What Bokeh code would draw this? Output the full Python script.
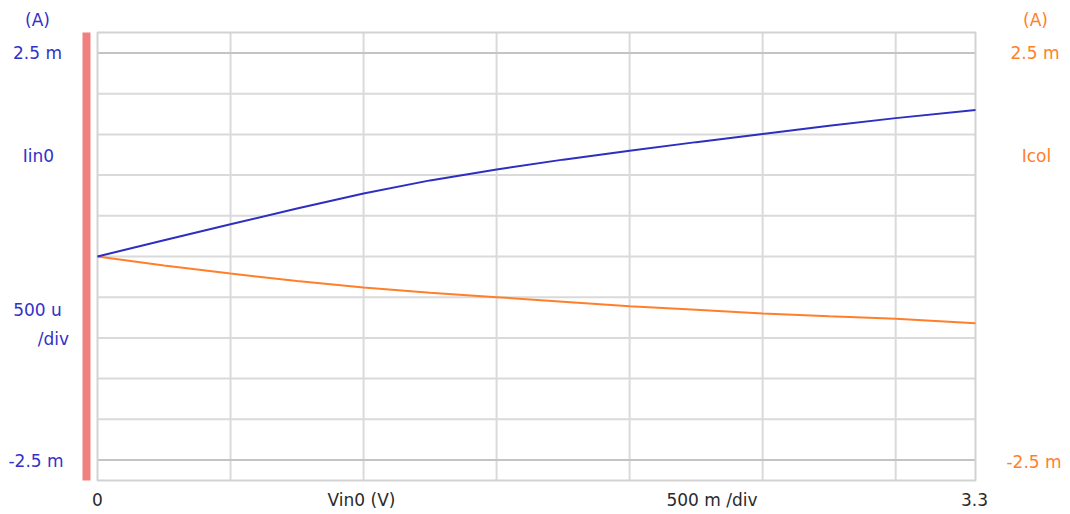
from bokeh.plotting import figure
from bokeh.models import Range1d
from bokeh.core.properties import value
from bokeh.embed import file_html
from bokeh.resources import INLINE

# ---- data (currents in mA, voltage in V) ----
vin = [0, 0.25, 0.5, 0.75, 1.0, 1.25, 1.5, 1.75, 2.0, 2.25, 2.5, 2.75, 3.0, 3.3]
iin0 = [0, 0.20, 0.395, 0.59, 0.775, 0.935, 1.07, 1.19, 1.30, 1.405, 1.505, 1.605, 1.70, 1.80]
icol = [0, -0.11, -0.21, -0.30, -0.38, -0.445, -0.50, -0.555, -0.61, -0.655, -0.70, -0.735, -0.765, -0.82]

x_grid = [0.5, 1.0, 1.5, 2.0, 2.5, 3.0]
y_grid = [-2.0, -1.5, -1.0, -0.5, 0.0, 0.5, 1.0, 1.5, 2.0]
y_limits = [-2.5, 2.5]
x_min, x_max = 0.0, 3.3

left_labels = ["(A)", "2.5 m", "Iin0", "500 u", "/div", "-2.5 m"]
right_labels = ["(A)", "2.5 m", "Icol", "-2.5 m"]
bottom_labels = ["0", "Vin0 (V)", "500 m /div", "3.3"]

# ---- layout helpers (page pixel -> data) ----
W, H = 1068, 512
SX = 878 / 3.3
SY = 81.4


def dx(px):
    return (px - 97) / SX


def dy(py):
    return (256 - py) / SY


FRAME_TOP = dy(32)
FRAME_BOT = dy(480)

BLUE = "#3232C8"
ORANGE = "#FF7F2A"
GRID = "#DADADA"
FONT = value("DejaVu Sans")
FS = "17px"

p = figure(width=W, height=H, output_backend="svg", toolbar_location=None,
           x_axis_type=None, y_axis_type=None,
           x_range=Range1d(dx(0), dx(W)), y_range=Range1d(dy(H), dy(0)))
p.min_border_left = p.min_border_right = p.min_border_top = p.min_border_bottom = 0
p.outline_line_color = None
p.xgrid.visible = False
p.ygrid.visible = False
p.background_fill_color = "white"
p.border_fill_color = "white"

# grid
p.segment(x0=x_grid, x1=x_grid, y0=[FRAME_BOT] * len(x_grid), y1=[FRAME_TOP] * len(x_grid),
          line_color=GRID, line_width=2)
p.segment(x0=[x_min] * len(y_grid), x1=[x_max] * len(y_grid), y0=y_grid, y1=y_grid,
          line_color=GRID, line_width=2)
p.segment(x0=[x_min] * 2, x1=[x_max] * 2, y0=y_limits, y1=y_limits,
          line_color="#C4C4C4", line_width=2)
# frame
p.quad(left=[x_min], right=[x_max], top=[FRAME_TOP], bottom=[FRAME_BOT],
       fill_color=None, line_color="#D2D2D2", line_width=2)
# red bar
p.quad(left=[dx(82)], right=[dx(90)], top=[FRAME_TOP], bottom=[FRAME_BOT],
       fill_color="#F08080", line_color=None)

# curves
p.line(vin, icol, line_color=ORANGE, line_width=2)
p.line(vin, iin0, line_color="#2E2EC0", line_width=2)

# texts
p.text(x=[dx(37), dx(37), dx(38), dx(37), dx(53), dx(35.5)],
       y=[dy(19), dy(52), dy(155), dy(309), dy(338), dy(460)],
       text=left_labels, text_align="center", text_baseline="middle",
       text_font=FONT, text_font_size=FS, text_color=BLUE)
p.text(x=[dx(1035), dx(1034.5), dx(1036), dx(1033.5)],
       y=[dy(19), dy(52), dy(155), dy(461)],
       text=right_labels, text_align="center", text_baseline="middle",
       text_font=FONT, text_font_size=FS, text_color=ORANGE)
p.text(x=[dx(97), dx(361), dx(711.5), dx(974)],
       y=[dy(499), dy(499), dy(499), dy(499)],
       text=bottom_labels, text_align="center", text_baseline="middle",
       text_font=FONT, text_font_size=FS, text_color="#2A2A2A")

open("out.html", "w").write(file_html(p, INLINE))
